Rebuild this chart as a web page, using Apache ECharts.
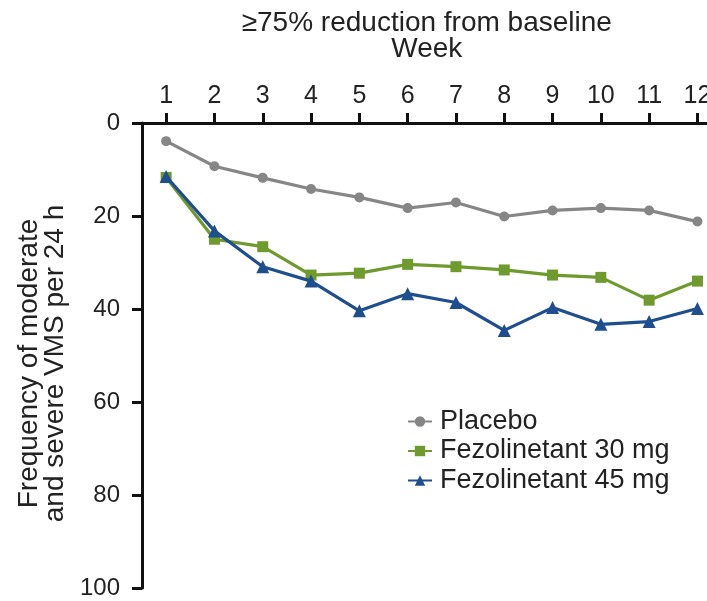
<!DOCTYPE html>
<html>
<head>
<meta charset="utf-8">
<script src="https://cdn.jsdelivr.net/npm/echarts@6/dist/echarts.min.js"></script>
<style>
html,body{margin:0;padding:0;background:#fff;}
#chart{width:707px;height:601px;}
</style>
</head>
<body>
<div id="chart"></div>
<script>
const weeks = ['1','2','3','4','5','6','7','8','9','10','11','12'];
const placebo = [3.9, 9.3, 11.8, 14.2, 16.0, 18.3, 17.1, 20.1, 18.8, 18.3, 18.8, 21.2];
const fezo30 = [11.7, 25.0, 26.6, 32.7, 32.3, 30.4, 30.9, 31.6, 32.7, 33.2, 38.1, 34.0];
const fezo45 = [11.5, 23.2, 30.9, 34.0, 40.4, 36.7, 38.6, 44.6, 39.7, 43.3, 42.7, 39.9];
const yTicks = [0, 20, 40, 60, 80, 100];
const seriesNames = ['Placebo', 'Fezolinetant 30 mg', 'Fezolinetant 45 mg'];

const FONT = '"Liberation Sans", Arial, sans-serif';
const chart = echarts.init(document.getElementById('chart'), null, {renderer: 'canvas'});

const colors = ['#868686', '#6e9a2e', '#1f4e8f'];
const symbols = ['circle', 'rect', 'triangle'];
const sizes = [10, 11, 13];
const datas = [placebo, fezo30, fezo45];

chart.setOption({
  animation: false,
  backgroundColor: '#ffffff',
  grid: {left: 142, right: -14.6, top: 123, bottom: 13, containLabel: false, outerBoundsMode: 'none'},
  legend: {
    orient: 'vertical',
    left: 402,
    top: 403,
    itemGap: 2.5,
    itemWidth: 24,
    itemHeight: 13,
    data: seriesNames,
    textStyle: {fontFamily: FONT, fontSize: 27, color: '#222', padding: [0, 0, 0, 3]}
  },
  xAxis: {
    type: 'category',
    position: 'top',
    data: weeks,
    boundaryGap: true,
    name: '≥75% reduction from baseline\nWeek',
    nameLocation: 'middle',
    nameGap: 61,
    nameTextStyle: {fontFamily: FONT, fontSize: 28, color: '#222', lineHeight: 26, padding: [0, 10, 0, 0]},
    axisLine: {show: true, onZero: false, lineStyle: {color: '#111', width: 3}},
    axisTick: {show: true, alignWithLabel: true, length: 10, lineStyle: {color: '#111', width: 3}},
    axisLabel: {fontFamily: FONT, fontSize: 25, color: '#222', margin: 14, interval: 0},
    splitLine: {show: false}
  },
  yAxis: {
    type: 'value',
    inverse: true,
    min: yTicks[0],
    max: yTicks[yTicks.length - 1],
    interval: 20,
    name: 'Frequency of moderate\nand severe VMS per 24 h',
    nameLocation: 'middle',
    nameRotate: 90,
    nameGap: 60,
    nameTextStyle: {fontFamily: FONT, fontSize: 28, color: '#222', lineHeight: 26, padding: [0, 16, 0, 0]},
    axisLine: {show: true, onZero: false, lineStyle: {color: '#111', width: 3}},
    axisTick: {show: true, length: 10, lineStyle: {color: '#111', width: 3}},
    axisLabel: {fontFamily: FONT, fontSize: 24, color: '#222', margin: 22},
    splitLine: {show: false}
  },
  series: seriesNames.map((n, i) => ({
    name: n,
    type: 'line',
    data: datas[i],
    symbol: symbols[i],
    symbolSize: sizes[i],
    showAllSymbol: true,
    lineStyle: {color: colors[i], width: 3.2},
    itemStyle: {color: colors[i]},
    z: 2 + i
  }))
});
</script>
</body>
</html>
